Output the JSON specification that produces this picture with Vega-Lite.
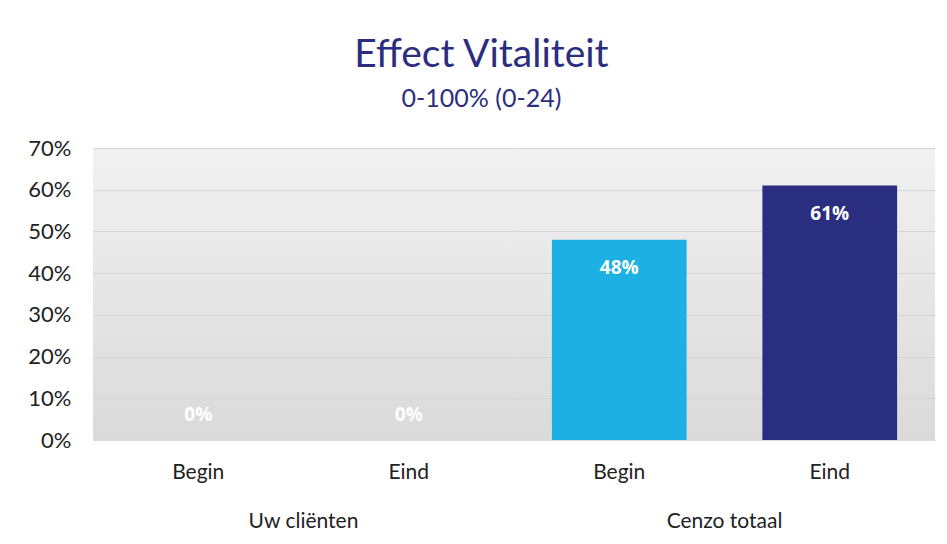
{
  "$schema": "https://vega.github.io/schema/vega-lite/v6.json",
  "padding": {"left": 27, "top": 36, "right": 6, "bottom": 5},
  "background": "#ffffff",
  "title": {
    "text": "Effect Vitaliteit",
    "subtitle": "0-100% (0-24)",
    "anchor": "middle",
    "font": "Lato",
    "fontSize": 39,
    "fontWeight": "normal",
    "color": "#2b2e80",
    "subtitleFont": "Lato",
    "subtitleFontSize": 25,
    "subtitleColor": "#2b2e80",
    "subtitlePadding": 12,
    "offset": 25
  },
  "data": {
    "values": [
      {"groep": "Uw cliënten", "meting": "Begin", "waarde": 0},
      {"groep": "Uw cliënten", "meting": "Eind", "waarde": 0},
      {"groep": "Cenzo totaal", "meting": "Begin", "waarde": 0.48},
      {"groep": "Cenzo totaal", "meting": "Eind", "waarde": 0.61}
    ]
  },
  "facet": {
    "column": {
      "field": "groep",
      "type": "nominal",
      "sort": ["Uw cliënten", "Cenzo totaal"],
      "header": {
        "title": null,
        "labelOrient": "bottom",
        "labelFont": "Lato",
        "labelFontSize": 21,
        "labelColor": "#222222",
        "labelPadding": 29
      }
    }
  },
  "spacing": 0,
  "spec": {
    "width": 421,
    "height": 292,
    "encoding": {
      "x": {
        "field": "meting",
        "type": "nominal",
        "sort": ["Begin", "Eind"],
        "scale": {"paddingInner": 0.36, "paddingOuter": 0.18},
        "axis": {
          "title": null,
          "labelAngle": 0,
          "labelFont": "Lato",
          "labelFontSize": 21,
          "labelColor": "#222222",
          "labelPadding": 21,
          "ticks": false,
          "domain": false
        }
      },
      "y": {
        "field": "waarde",
        "type": "quantitative",
        "scale": {"domain": [0, 0.7]},
        "axis": {
          "title": null,
          "format": ".0%",
          "values": [0, 0.1, 0.2, 0.3, 0.4, 0.5, 0.6, 0.7],
          "labelFont": "Lato",
          "labelFontSize": 22,
          "labelColor": "#222222",
          "labelPadding": 22,
          "ticks": false,
          "domain": false,
          "gridColor": "#cfcfcf",
          "gridOpacity": 0.8
        }
      }
    },
    "layer": [
      {
        "mark": {"type": "bar"},
        "encoding": {
          "color": {
            "field": "meting",
            "type": "nominal",
            "scale": {"domain": ["Begin", "Eind"], "range": ["#1db1e3", "#2a2e80"]},
            "legend": null
          }
        }
      },
      {
        "transform": [{"filter": "datum.waarde > 0"}],
        "mark": {"type": "text", "color": "#ffffff", "font": "Open Sans", "fontWeight": "bold", "fontSize": 19, "baseline": "middle", "dy": 28},
        "encoding": {"text": {"field": "waarde", "type": "quantitative", "format": ".0%"}}
      },
      {
        "transform": [{"filter": "datum.waarde == 0"}],
        "mark": {"type": "text", "color": "#ffffff", "font": "Open Sans", "fontWeight": "bold", "fontSize": 19, "baseline": "middle", "dy": -25},
        "encoding": {"text": {"field": "waarde", "type": "quantitative", "format": ".0%"}}
      }
    ]
  },
  "config": {
    "view": {
      "stroke": null,
      "fill": {
        "gradient": "linear",
        "x1": 0, "y1": 0, "x2": 0, "y2": 1,
        "stops": [
          {"offset": 0, "color": "#f1f1f1"},
          {"offset": 1, "color": "#dadada"}
        ]
      }
    }
  }
}
